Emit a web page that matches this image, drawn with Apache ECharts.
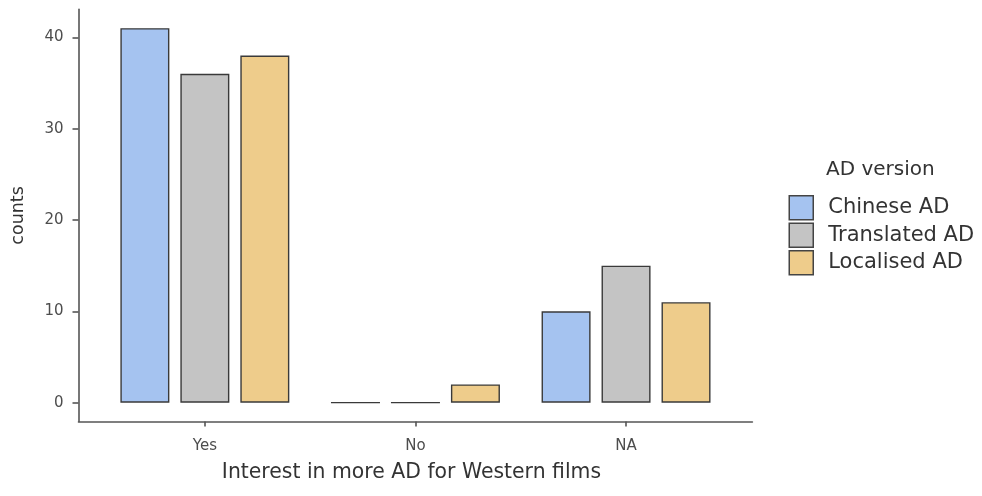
<!DOCTYPE html>
<html>
<head>
<meta charset="utf-8">
<script src="https://cdn.jsdelivr.net/npm/echarts@6/dist/echarts.min.js"></script>
<style>
html,body{margin:0;padding:0;background:#fff;}
#chart{width:982px;height:496px;}
</style>
</head>
<body>
<div id="chart"></div>
<script>
const categories = ['Yes', 'No', 'NA'];
const seriesNames = ['Chinese AD', 'Translated AD', 'Localised AD'];
const chineseAD = [41, 0, 10];
const translatedAD = [36, 0, 15];
const localisedAD = [38, 2, 11];
const yTicks = [0, 10, 20, 30, 40];
const colors = ['#A5C3F0', '#C4C4C4', '#EECC8B'];

const FONT = 'DejaVu Sans';
const allSeries = [chineseAD, translatedAD, localisedAD];
const xPositions = categories.map((c, i) => i + 1);

const chart = echarts.init(document.getElementById('chart'), null, {renderer: 'canvas'});
chart.setOption({
  animation: false,
  backgroundColor: '#ffffff',
  color: colors,
  textStyle: {fontFamily: FONT},
  title: {
    text: 'AD version',
    left: 826, top: 160, padding: 0,
    textStyle: {fontFamily: FONT, fontSize: 20, fontWeight: 'normal', color: '#333'}
  },
  legend: {
    orient: 'vertical',
    left: 788.5, top: 195, padding: 0,
    itemWidth: 24, itemHeight: 24, itemGap: 2,
    icon: 'rect',
    data: seriesNames,
    itemStyle: {borderColor: '#444', borderWidth: 1.5},
    textStyle: {fontFamily: FONT, fontSize: 21, color: '#333', padding: [0, 0, 0, 10]}
  },
  grid: {left: 78.5, right: 229.6, top: 9.4, bottom: 74.6, containLabel: false},
  xAxis: {
    type: 'value',
    min: 0.4, max: 3.6,
    name: 'Interest in more AD for Western films',
    nameLocation: 'middle', nameGap: 41,
    nameTextStyle: {fontFamily: FONT, fontSize: 20.4, color: '#333', padding: [0, 8, 0, 0]},
    splitLine: {show: false},
    axisLine: {show: true, onZero: false, lineStyle: {color: '#555', width: 1.6}},
    axisTick: {show: true, customValues: xPositions, length: 5, lineStyle: {color: '#555', width: 1.6}},
    axisLabel: {
      customValues: xPositions, margin: 17,
      fontFamily: FONT, fontSize: 15, color: '#4d4d4d',
      formatter: v => categories[Math.round(v) - 1] || ''
    }
  },
  yAxis: {
    type: 'value',
    min: -2.05, max: 43.05,
    name: 'counts',
    nameLocation: 'middle', nameGap: 51,
    nameTextStyle: {fontFamily: FONT, fontSize: 17.5, color: '#333'},
    splitLine: {show: false},
    axisLine: {show: true, onZero: false, lineStyle: {color: '#555', width: 1.6}},
    axisTick: {show: true, customValues: yTicks, length: 6, lineStyle: {color: '#555', width: 1.6}},
    axisLabel: {
      customValues: yTicks, margin: 15,
      fontFamily: FONT, fontSize: 15, color: '#4d4d4d'
    }
  },
  series: seriesNames.map((name, s) => ({
    name: name,
    type: 'bar',
    barWidth: 49,
    barGap: '22.4%',
    itemStyle: {color: colors[s], borderColor: '#3a3a3a', borderWidth: 1.4},
    data: xPositions.map((x, i) => [x, allSeries[s][i]])
  }))
});
</script>
</body>
</html>
